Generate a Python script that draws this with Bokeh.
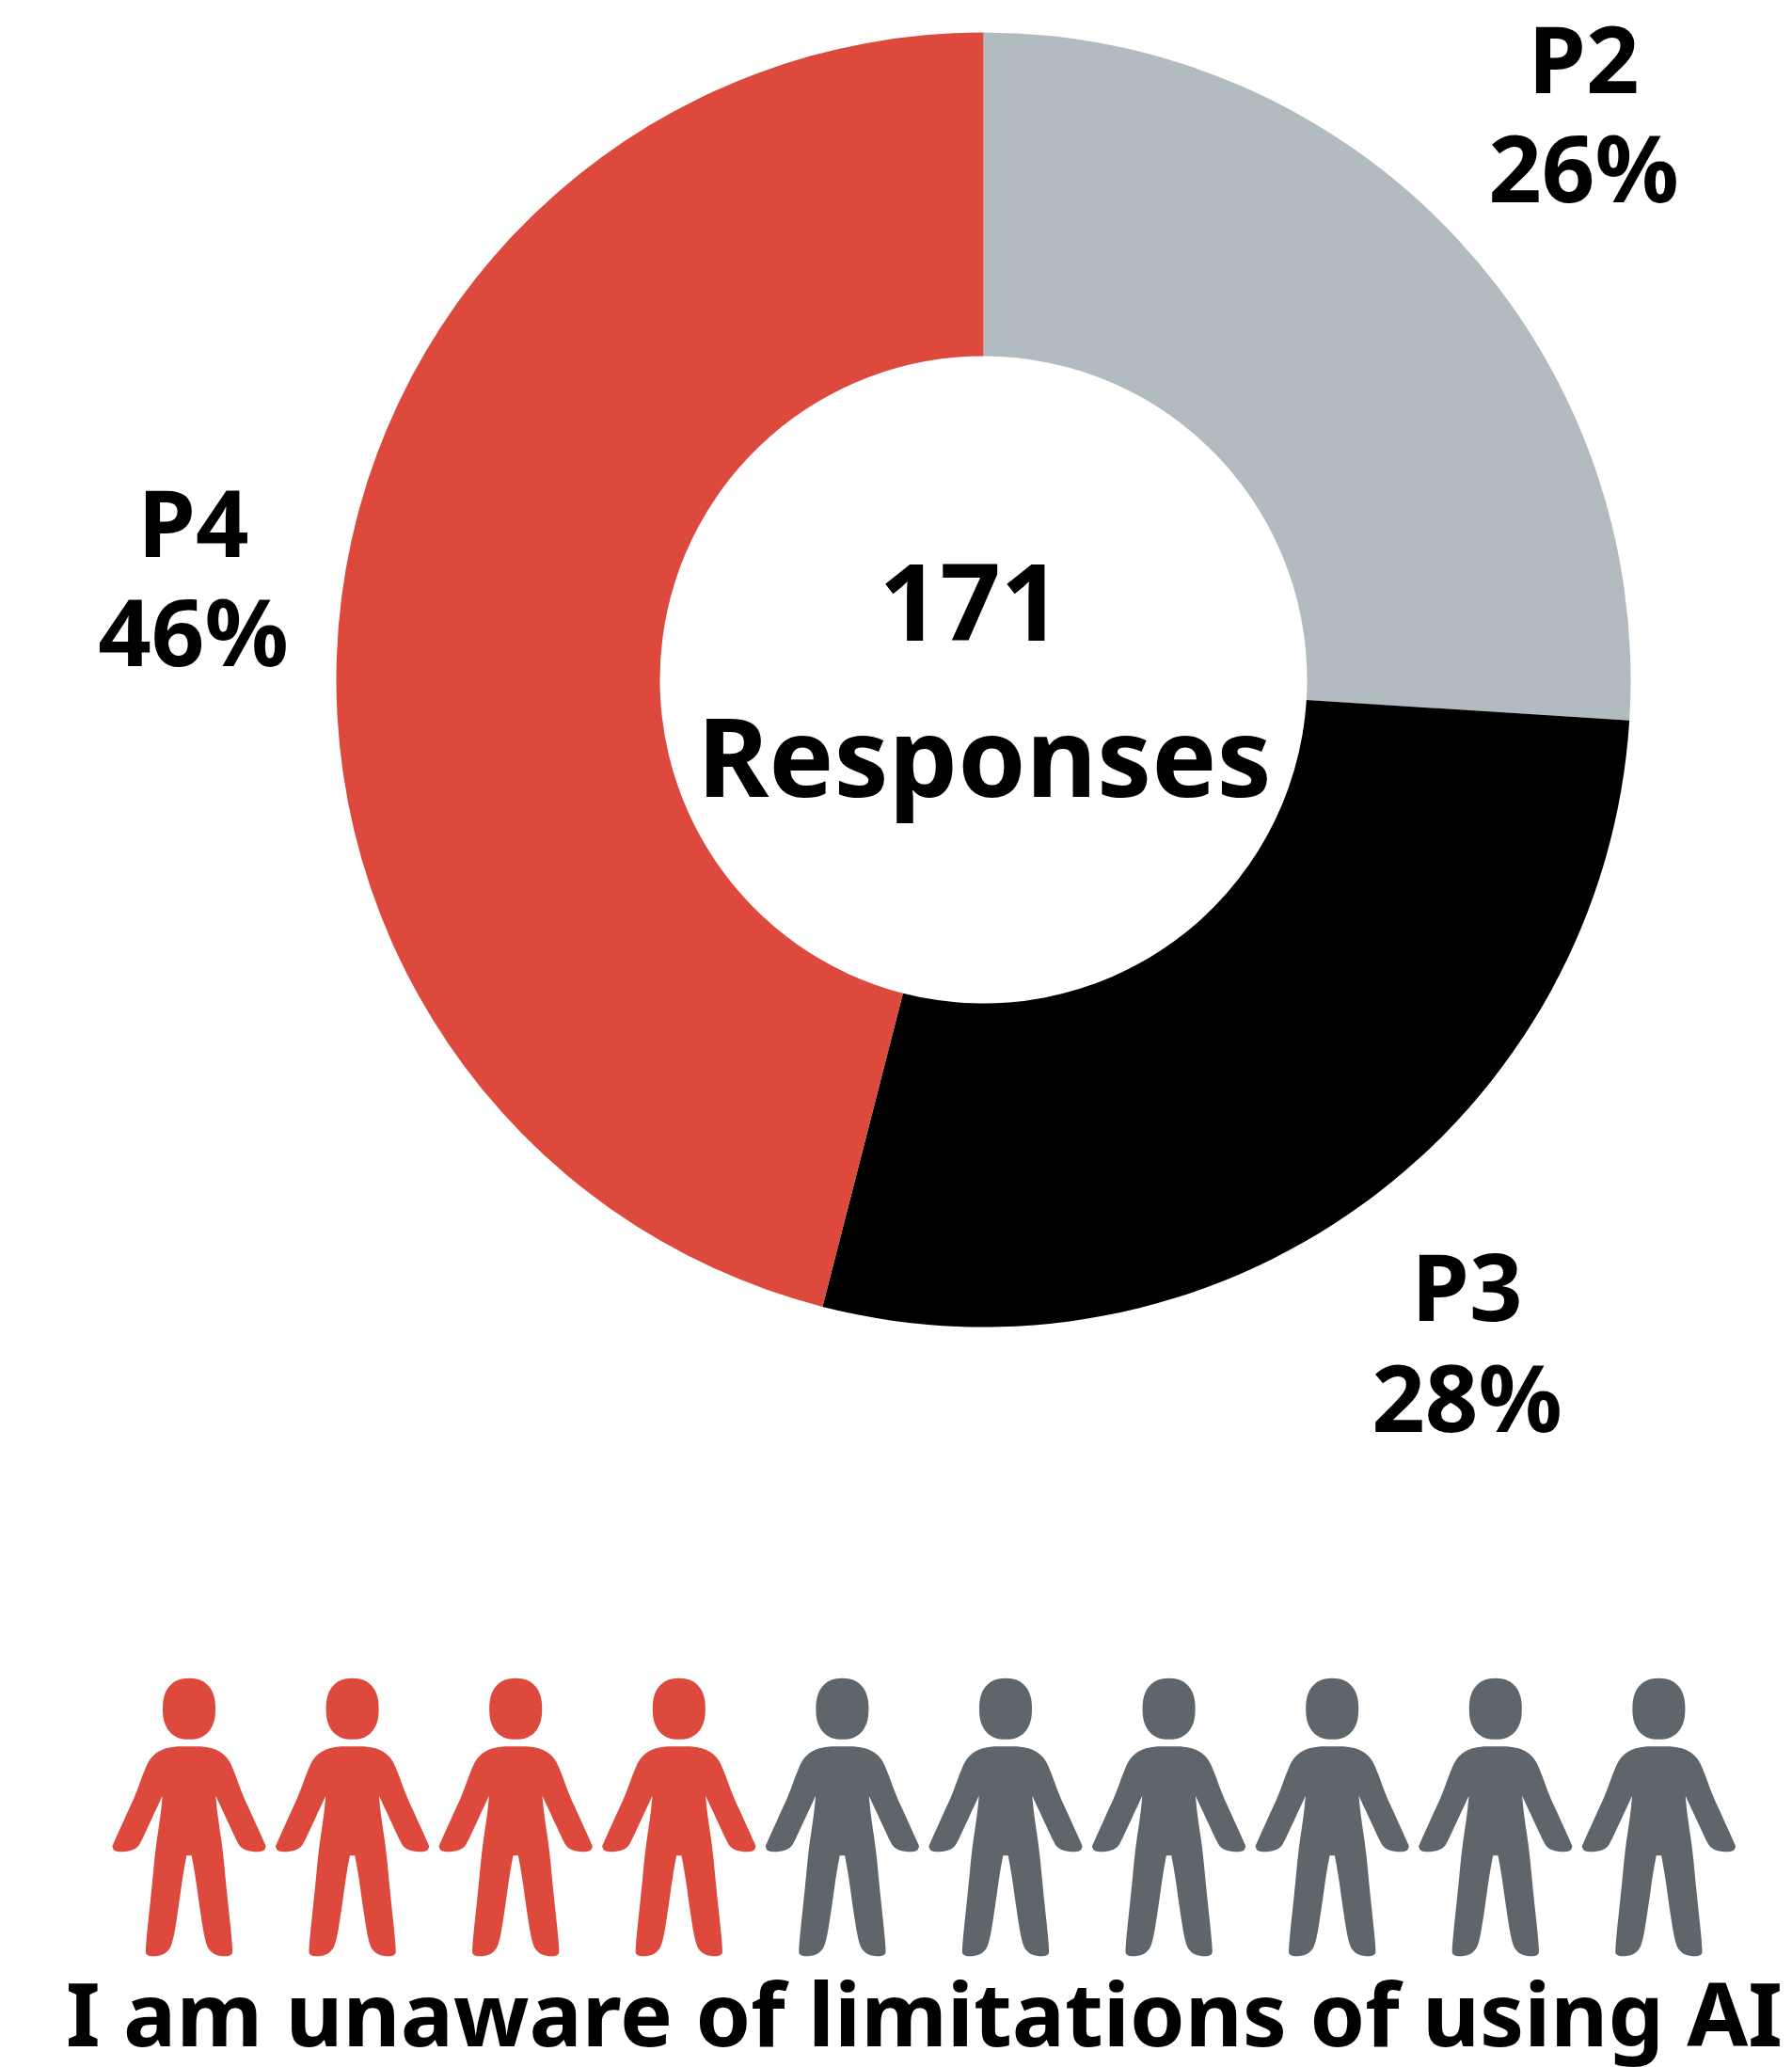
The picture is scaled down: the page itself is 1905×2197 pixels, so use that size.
import math
from bokeh.plotting import figure
from bokeh.models import Range1d, ColumnDataSource
from bokeh.core.properties import value
from bokeh.embed import file_html
from bokeh.resources import INLINE

categories = ["P2", "P3", "P4"]
shares = [26, 28, 46]
colors = ["#B2BBBF", "#000000", "#DD4A3D"]
total_responses = "171"
center_word = "Responses"
title_text = "I am unaware of limitations of using AI"
people_total = 10
people_highlighted = 4
HIGHLIGHT = "#DD4A3D"
MUTED = "#5E666C"
FONT = "Noto Sans"

W, H = 1905, 2197
def Y(py):
    return H - py

p = figure(width=W, height=H, x_range=Range1d(0, W), y_range=Range1d(0, H),
           output_backend="svg", toolbar_location=None, min_border=0)
p.axis.visible = False
p.grid.visible = False
p.outline_line_color = None

# donut
cx, cy, r_out, r_in = 1045, Y(722), 688, 344
starts, ends = [], []
acc = 0
for s in shares:
    starts.append(math.pi / 2 - 2 * math.pi * (acc + s) / 100)
    ends.append(math.pi / 2 - 2 * math.pi * acc / 100)
    acc += s
src = ColumnDataSource(dict(start=starts, end=ends, color=colors,
                            x=[cx] * 3, y=[cy] * 3))
p.annular_wedge(x="x", y="y", inner_radius=r_in, outer_radius=r_out,
                start_angle="start", end_angle="end", fill_color="color",
                line_color=None, source=src)

BASE_FIX = 0.385
def label(x, py, txt, size):
    p.text(x=[x], y=[int(round(Y(py - BASE_FIX * size)))], text=[txt], text_font=value(FONT),
           text_font_style="bold", text_font_size=str(size) + "px", text_color="#000000",
           text_align="center", text_baseline="alphabetic")

label_pos = {"P2": (1683, 98, 214), "P3": (1559, 1403, 1521), "P4": (205, 591, 707)}
for cat, share in zip(categories, shares):
    x, b1, b2 = label_pos[cat]
    label(x, b1, cat, 99)
    label(x, b2, f"{share}%", 99)
label(1031, 684, total_responses, 113)
label(1046, 846, center_word, 116)
label(982, 2174, title_text, 94)

# pictogram: outline in zoomed units, True marks a sharp corner
half = [(0, 287, True), (45, 287, False), (90, 297, False), (125, 325, False), (145, 370, False),
        (170, 440, False), (200, 505, False), (245, 605, True), (240, 622, False), (200, 624, False),
        (165, 612, False), (150, 585, False), (120, 520, False), (85, 445, True),
        (90, 500, False), (108, 620, False), (118, 730, False), (140, 935, False), (136, 955, False),
        (100, 957, False), (70, 945, False), (52, 915, False), (35, 810, False), (20, 700, False),
        (8, 635, True), (0, 635, True)]
raw = half + [(-a, b, k) for a, b, k in reversed(half[1:-1])]

def smooth(points, rounds=3):
    for _ in range(rounds):
        out = []
        n = len(points)
        for i in range(n):
            a, b = points[i], points[(i + 1) % n]
            if a[2]:
                out.append(a)
            else:
                out.append((0.75 * a[0] + 0.25 * b[0], 0.75 * a[1] + 0.25 * b[1], False))
            if not b[2]:
                out.append((0.25 * a[0] + 0.75 * b[0], 0.25 * a[1] + 0.75 * b[1], False))
        points = out
    return [(a, b) for a, b, _ in points]

outline = smooth(raw)
head = []
for i in range(72):
    t = 2 * math.pi * i / 72
    cs, sn = math.cos(t), math.sin(t)
    head.append((84 * math.copysign(abs(cs) ** 0.85, cs), 167.5 + 97.5 * math.copysign(abs(sn) ** 0.85, sn)))

xs, ys, fills = [], [], []
for i in range(people_total):
    mid = 200.5 + 173.6 * i
    col = HIGHLIGHT if i < people_highlighted else MUTED
    for shape in (outline, head):
        xs.append([mid + a / 3 for a, b in shape])
        ys.append([Y(1760 + b / 3) for a, b in shape])
        fills.append(col)
p.patches(xs, ys, fill_color=fills, line_color=None)

open("out.html", "w").write(file_html(p, INLINE))
